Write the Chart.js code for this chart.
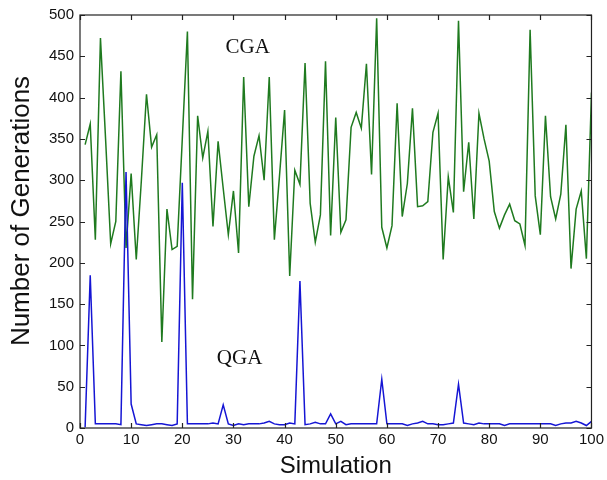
<!DOCTYPE html>
<html lang="en">
<head>
    <meta charset="UTF-8">
    <title>CGA vs QGA generations</title>
    <script src="https://cdn.jsdelivr.net/npm/chart.js"></script>
    <style>
        html, body {
            margin: 0;
            padding: 0;
            background: #ffffff;
        }
        .chart-box {
            width: 607px;
            height: 480px;
        }
    </style>
</head>
<body>
    <div class="chart-box">
        <canvas id="genChart" width="607" height="480"></canvas>
    </div>

    <script>
        // Number of generations per simulation run (1..100)
        const cgaGenerations = [
            343, 368, 228, 472, 350, 223, 250, 432, 218, 308,
            204, 300, 404, 340, 355, 104, 265, 216, 220, 350,
            480, 156, 378, 327, 359, 244, 347, 290, 234, 287,
            212, 425, 268, 329, 354, 300, 425, 228, 305, 385,
            184, 312, 295, 442, 272, 225, 258, 444, 233, 376,
            237, 252, 364, 382, 363, 441, 307, 496, 243, 218,
            245, 393, 256, 296, 387, 268, 269, 274, 358, 381,
            204, 304, 261, 493, 286, 346, 253, 381, 350, 323,
            262, 242, 258, 271, 251, 247, 221, 482, 281, 234,
            378, 280, 253, 283, 367, 193, 265, 287, 205, 406
        ];
        const qgaGenerations = [
            1, 185, 5, 5, 5, 5, 5, 4, 310, 29,
            5, 4, 3, 4, 5, 5, 4, 3, 5, 297,
            5, 5, 5, 5, 5, 6, 5, 28, 5, 3,
            5, 4, 5, 5, 5, 6, 8, 5, 4, 4,
            6, 5, 178, 4, 5, 7, 5, 5, 17, 5,
            8, 4, 5, 5, 5, 5, 5, 5, 59, 5,
            5, 5, 5, 3, 5, 6, 8, 5, 5, 4,
            4, 5, 6, 53, 6, 5, 4, 6, 5, 5,
            5, 5, 3, 5, 5, 5, 5, 5, 5, 5,
            5, 5, 3, 5, 6, 6, 8, 6, 3, 8
        ];
        const xTicks = [0, 10, 20, 30, 40, 50, 60, 70, 80, 90, 100];
        const yTicks = [0, 50, 100, 150, 200, 250, 300, 350, 400, 450, 500];

        // in-plot labels, placed in data coordinates
        const seriesLabels = [
            { text: 'CGA', x: 32.8, y: 461 },
            { text: 'QGA', x: 31.2, y: 84 }
        ];

        function toPoints(values) {
            return values.map((v, i) => ({ x: i + 1, y: v }));
        }

        // Box around the plot, inward tick marks, axis titles and series labels
        const framePlugin = {
            id: 'frame',
            afterDatasetsDraw(chart) {
                const ctx = chart.ctx;
                const area = chart.chartArea;
                const xs = chart.scales.x;
                const ys = chart.scales.y;
                const tick = 5;

                ctx.save();
                ctx.strokeStyle = '#222';
                ctx.lineWidth = 1.2;
                ctx.strokeRect(area.left, area.top, area.right - area.left, area.bottom - area.top);

                ctx.beginPath();
                xTicks.forEach(v => {
                    const px = Math.round(xs.getPixelForValue(v)) + 0.5;
                    ctx.moveTo(px, area.bottom);
                    ctx.lineTo(px, area.bottom - tick);
                    ctx.moveTo(px, area.top);
                    ctx.lineTo(px, area.top + tick);
                });
                yTicks.forEach(v => {
                    const py = Math.round(ys.getPixelForValue(v)) + 0.5;
                    ctx.moveTo(area.left, py);
                    ctx.lineTo(area.left + tick, py);
                    ctx.moveTo(area.right, py);
                    ctx.lineTo(area.right - tick, py);
                });
                ctx.stroke();

                // axis titles
                ctx.fillStyle = '#111';
                ctx.textAlign = 'center';
                ctx.textBaseline = 'middle';
                ctx.font = '24px "Liberation Sans", Arial, sans-serif';
                ctx.fillText('Simulation', (area.left + area.right) / 2, 466);

                ctx.save();
                ctx.font = '26px "Liberation Sans", Arial, sans-serif';
                ctx.translate(22, 211);
                ctx.rotate(-Math.PI / 2);
                ctx.fillText('Number of Generations', 0, 0);
                ctx.restore();

                // CGA / QGA labels
                ctx.font = '21px "Liberation Serif", "Times New Roman", serif';
                seriesLabels.forEach(l => {
                    ctx.fillText(l.text, xs.getPixelForValue(l.x), ys.getPixelForValue(l.y));
                });
                ctx.restore();
            }
        };

        const ctx = document.getElementById('genChart').getContext('2d');
        new Chart(ctx, {
            type: 'line',
            data: {
                datasets: [
                    {
                        label: 'CGA',
                        data: toPoints(cgaGenerations),
                        borderColor: '#1f7a1f',
                        borderWidth: 1.5,
                        pointRadius: 0,
                        tension: 0,
                        order: 1
                    },
                    {
                        label: 'QGA',
                        data: toPoints(qgaGenerations),
                        borderColor: '#1515d4',
                        borderWidth: 1.5,
                        pointRadius: 0,
                        tension: 0,
                        order: 0
                    }
                ]
            },
            options: {
                responsive: false,
                animation: false,
                layout: {
                    padding: { left: 0, right: 15, top: 12, bottom: 0 }
                },
                plugins: {
                    legend: { display: false },
                    tooltip: { enabled: false }
                },
                scales: {
                    x: {
                        type: 'linear',
                        min: 0,
                        max: 100,
                        grid: { display: false, drawTicks: false },
                        border: { display: false },
                        afterBuildTicks: scale => {
                            scale.ticks = xTicks.map(v => ({ value: v }));
                        },
                        afterFit: scale => {
                            scale.height = 52;
                        },
                        ticks: {
                            color: '#111',
                            padding: 3,
                            maxRotation: 0,
                            font: { family: '"Liberation Sans", Arial, sans-serif', size: 15 }
                        }
                    },
                    y: {
                        min: 0,
                        max: 500,
                        grid: { display: false, drawTicks: false },
                        border: { display: false },
                        afterBuildTicks: scale => {
                            scale.ticks = yTicks.map(v => ({ value: v }));
                        },
                        afterFit: scale => {
                            scale.width = 80;
                        },
                        ticks: {
                            color: '#111',
                            padding: 6,
                            font: { family: '"Liberation Sans", Arial, sans-serif', size: 15 }
                        }
                    }
                }
            },
            plugins: [framePlugin]
        });
    </script>
</body>
</html>
